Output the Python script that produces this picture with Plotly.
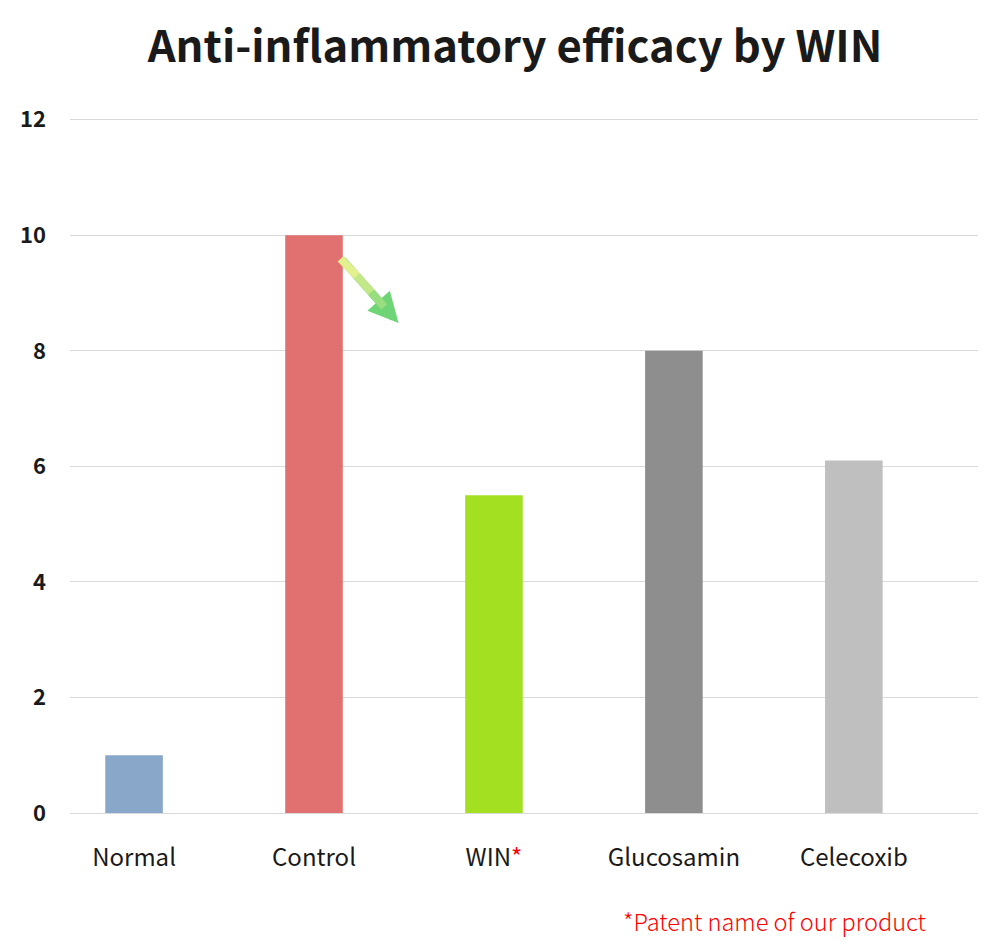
import plotly.graph_objects as go

categories = ["Normal", "Control", "WIN", "Glucosamin", "Celecoxib"]
tick_labels = ["Normal", "Control", "WIN<span style='color:#ff0000'>*</span>", "Glucosamin", "Celecoxib"]
values = [1.0, 10.0, 5.5, 8.0, 6.1]
colors = ["#88a7c9", "#e07170", "#a3e021", "#8e8e8e", "#bfbfbf"]
y_ticks = [0, 2, 4, 6, 8, 10, 12]

FONT = "Noto Sans CJK KR"

fig = go.Figure()
fig.add_trace(go.Bar(
    x=list(range(len(categories))),
    y=values,
    marker=dict(color=colors, line=dict(width=0)),
    width=0.32,
    hoverinfo="skip",
))

# gradient-ish arrow from Control toward WIN
fig.add_annotation(
    x=1.47, y=8.48, ax=1.15, ay=9.60,
    xref="x", yref="y", axref="x", ayref="y",
    showarrow=True, arrowhead=2, arrowsize=0.75, arrowwidth=8,
    arrowcolor="#6fd476", text="",
)
fig.add_annotation(
    x=1.24, y=9.29, ax=1.14, ay=9.62,
    xref="x", yref="y", axref="x", ayref="y",
    showarrow=True, arrowhead=0, arrowwidth=8,
    arrowcolor="#e2f08e", text="",
)
fig.add_annotation(
    x=1.32, y=9.01, ax=1.23, ay=9.32,
    xref="x", yref="y", axref="x", ayref="y",
    showarrow=True, arrowhead=0, arrowwidth=8,
    arrowcolor="#c3e887", text="",
)
fig.add_annotation(
    x=1.39, y=8.76, ax=1.31, ay=9.04,
    xref="x", yref="y", axref="x", ayref="y",
    showarrow=True, arrowhead=0, arrowwidth=8,
    arrowcolor="#98de7f", text="",
)

fig.add_annotation(
    text="*Patent name of our product",
    xref="paper", yref="paper", x=0.776, y=-0.1556,
    xanchor="center", yanchor="middle", showarrow=False,
    font=dict(family=FONT, size=23.6, color="#ff0000", weight=300),
)

fig.update_layout(
    width=1000, height=950,
    margin=dict(l=62, r=30, t=110, b=145),
    paper_bgcolor="white", plot_bgcolor="white",
    showlegend=False,
    title=dict(
        text="<b>Anti-inflammatory efficacy by WIN</b>",
        x=0.507, xanchor="center", y=0.959, yanchor="middle",
        font=dict(family=FONT, size=43.6, color="#1a1a1a"),
    ),
    font=dict(family=FONT, color="#1a1a1a"),
    xaxis=dict(
        tickmode="array", tickvals=list(range(len(categories))), ticktext=tick_labels,
        range=[-0.356, 4.69], showgrid=False, zeroline=False, showline=False,
        tickfont=dict(family=FONT, size=24, color="#1a1a1a"), ticklabelstandoff=28,
    ),
    yaxis=dict(
        range=[0, 12.03], tickmode="array", tickvals=y_ticks,
        ticktext=[f"<b>{v}</b>" for v in y_ticks],
        showgrid=True, gridcolor="#d9d9d9", gridwidth=1,
        zeroline=True, zerolinecolor="#d9d9d9", zerolinewidth=1, showline=False,
        tickfont=dict(family=FONT, size=22, color="#1a1a1a"), ticklabelstandoff=23,
    ),
)

fig.write_html("out.html")
